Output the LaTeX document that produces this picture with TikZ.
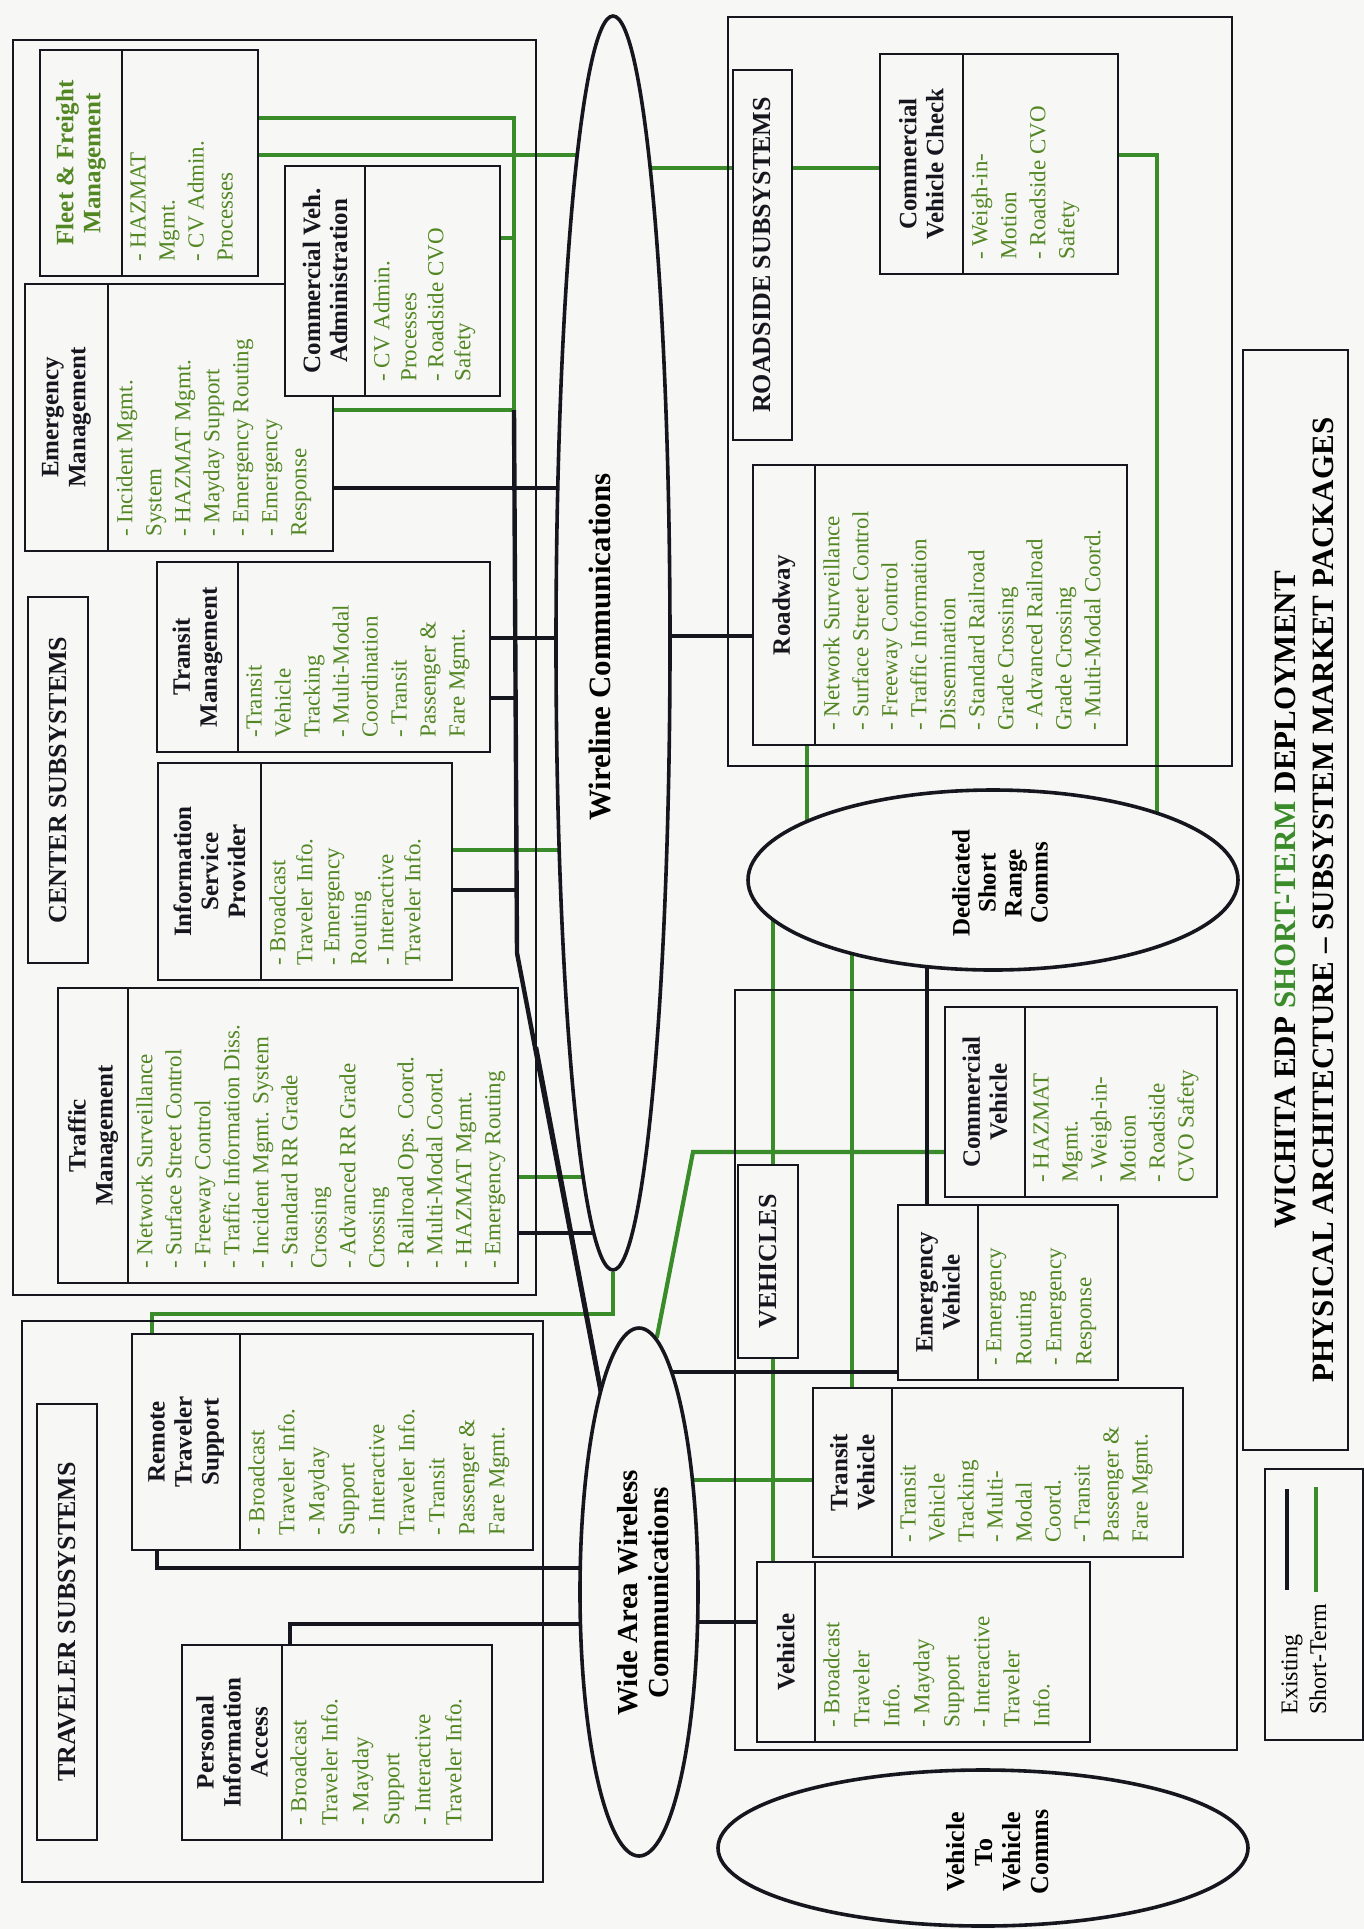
\documentclass[tikz,border=0pt]{standalone}
\usepackage{fontspec}
\setmainfont{Liberation Serif}
\usetikzlibrary{shapes.geometric,fit}
\definecolor{bgc}{RGB}{247,247,245}
\definecolor{lg}{RGB}{58,140,42}
\definecolor{tg}{RGB}{82,135,36}
\definecolor{ink}{RGB}{22,22,30}
\pgfdeclarelayer{back}
\pgfdeclarelayer{lines}
\pgfsetlayers{back,lines,main}
\newcommand\mybox[6][]{%
  \path (#3,#4) coordinate (#2-nw) (#5,#6) coordinate (#2-se);
  \node[frame,fit=(#2-nw)(#2-se),#1] (#2) {};}
\newcommand\mydiv[2]{\draw[frame] (#2,0 |- #1.north) -- (#2,0 |- #1.south);}
\begin{document}
\begin{tikzpicture}[x=0.5pt,y=-0.5pt,
  frame/.style={draw=ink,line width=0.9pt,inner sep=0pt},
  ttl/.style={rotate=90,font=\fontsize{12.5}{13.5}\selectfont\bfseries,align=center,inner sep=0pt,text=ink},
  itm/.style={rotate=90,font=\fontsize{11.5}{14.5}\selectfont,align=left,inner sep=0pt,anchor=north west,text=tg},
  sec/.style={rotate=90,font=\fontsize{13}{14}\selectfont\bfseries,inner sep=0pt,text=ink},
  ex/.style={draw=ink,line width=2.2pt},
  st/.style={draw=lg,line width=2.1pt},
  ell/.style={ellipse,draw=ink,line width=1.8pt,fill=bgc,inner sep=0pt}]
\useasboundingbox (0,0) rectangle (1364,1929);
\begin{pgfonlayer}{back}
\fill[bgc] (0,0) rectangle (1364,1929);
\end{pgfonlayer}

% ---------- CENTER SUBSYSTEMS ----------
\mybox{cen}{13}{40}{536}{1295}
\mybox{csl}{28}{597}{88}{963}
\node[sec] (csl-t) at (58,780) {CENTER SUBSYSTEMS};

\mybox{ffm}{40}{50}{258}{276}
\mydiv{ffm}{122}
\node[ttl,text=tg] (ffm-t) at (81,163) {Fleet \& Freight\\Management};
\node[itm] (ffm-i) at (130,262) {- HAZMAT\\Mgmt.\\- CV Admin.\\Processes};

\mybox{emm}{25}{284}{333}{551}
\mydiv{emm}{108}
\node[ttl] (emm-t) at (66.5,417.5) {Emergency\\Management};
\node[itm] (emm-i) at (116,537) {- Incident Mgmt.\\System\\- HAZMAT Mgmt.\\- Mayday Support\\- Emergency Routing\\- Emergency\\Response};

\mybox[fill=bgc]{cva}{285}{166}{500}{396}
\mydiv{cva}{365}
\node[ttl] (cva-t) at (325,281) {Commercial Veh.\\Administration};
\node[itm,font=\fontsize{11.5}{13.5}\selectfont] (cva-i) at (373,382) {- CV Admin.\\Processes\\- Roadside CVO\\Safety};

\mybox{trm}{157}{562}{490}{752}
\mydiv{trm}{238}
\node[ttl] (trm-t) at (197.5,657) {Transit\\Management};
\node[itm] (trm-i) at (246,738) {-Transit\\Vehicle\\Tracking\\- Multi-Modal\\Coordination\\- Transit\\Passenger \&\\Fare Mgmt.};

\mybox{isp}{158}{763}{452}{980}
\mydiv{isp}{261}
\node[ttl] (isp-t) at (209.5,871.5) {Information\\Service\\Provider};
\node[itm,font=\fontsize{11.5}{13.5}\selectfont] (isp-i) at (269,966) {- Broadcast\\Traveler Info.\\- Emergency\\Routing\\- Interactive\\Traveler Info.};

\mybox{trf}{58}{988}{518}{1283}
\mydiv{trf}{128}
\node[ttl] (trf-t) at (93,1135.5) {Traffic\\Management};
\node[itm] (trf-i) at (136,1269) {- Network Surveillance\\- Surface Street Control\\- Freeway Control\\- Traffic Information Diss.\\- Incident Mgmt. System\\- Standard RR Grade\\Crossing\\- Advanced RR Grade\\Crossing\\- Railroad Ops. Coord.\\- Multi-Modal Coord.\\- HAZMAT Mgmt.\\- Emergency Routing};

% ---------- ROADSIDE ----------
\mybox{rso}{728}{17}{1232}{766}
\mybox[fill=bgc]{rsl}{733}{70}{792}{440}
\node[sec] (rsl-t) at (762.5,255) {ROADSIDE SUBSYSTEMS};

\mybox{cvc}{880}{54}{1118}{274}
\mydiv{cvc}{963}
\node[ttl] (cvc-t) at (921.5,164) {Commercial\\Vehicle Check};
\node[itm] (cvc-i) at (971,260) {- Weigh-in-\\Motion\\- Roadside CVO\\Safety};

\mybox{rdw}{753}{465}{1127}{745}
\mydiv{rdw}{815}
\node[ttl] (rdw-t) at (784,605) {Roadway};
\node[itm] (rdw-i) at (823,731) {- Network Surveillance\\- Surface Street Control\\- Freeway Control\\- Traffic Information\\Dissemination\\- Standard Railroad\\Grade Crossing\\- Advanced Railroad\\Grade Crossing\\- Multi-Modal Coord.};

% ---------- VEHICLES ----------
\mybox{vho}{735}{990}{1237}{1750}
\mybox[fill=bgc]{vhl}{738}{1165}{798}{1358}
\node[sec] (vhl-t) at (768,1261.5) {VEHICLES};

\mybox{cmv}{945}{1007}{1217}{1197}
\mydiv{cmv}{1025}
\node[ttl] (cmv-t) at (985,1102) {Commercial\\Vehicle};
\node[itm] (cmv-i) at (1033,1183) {- HAZMAT\\Mgmt.\\- Weigh-in-\\Motion\\- Roadside\\CVO Safety};

\mybox{ev}{898}{1205}{1118}{1380}
\mydiv{ev}{978}
\node[ttl] (ev-t) at (938,1292.5) {Emergency\\Vehicle};
\node[itm,font=\fontsize{11.5}{15}\selectfont] (ev-i) at (986,1366) {- Emergency\\Routing\\- Emergency\\Response};

\mybox{tv}{813}{1388}{1183}{1557}
\mydiv{tv}{892}
\node[ttl] (tv-t) at (852.5,1472.5) {Transit\\Vehicle};
\node[itm] (tv-i) at (900,1543) {- Transit\\Vehicle\\Tracking\\- Multi-\\Modal\\Coord.\\- Transit\\Passenger \&\\Fare Mgmt.};

\mybox{veh}{757}{1562}{1090}{1742}
\mydiv{veh}{815}
\node[ttl] (veh-t) at (786,1652) {Vehicle};
\node[itm,font=\fontsize{11.5}{15}\selectfont] (veh-i) at (823,1728) {- Broadcast\\Traveler\\Info.\\- Mayday\\Support\\- Interactive\\Traveler\\Info.};

% ---------- TRAVELER ----------
\mybox{tro}{22}{1321}{543}{1882}
\mybox{tsl}{37}{1404}{97}{1840}
\node[sec] (tsl-t) at (67,1622) {TRAVELER SUBSYSTEMS};

\mybox{rts}{132}{1334}{533}{1550}
\mydiv{rts}{240}
\node[ttl] (rts-t) at (186,1442) {Remote\\Traveler\\Support};
\node[itm,font=\fontsize{11.5}{15}\selectfont] (rts-i) at (248,1536) {- Broadcast\\Traveler Info.\\- Mayday\\Support\\- Interactive\\Traveler Info.\\- Transit\\Passenger \&\\Fare Mgmt.};

\mybox{pia}{182}{1645}{492}{1840}
\mydiv{pia}{282}
\node[ttl] (pia-t) at (232,1742.5) {Personal\\Information\\Access};
\node[itm,font=\fontsize{11.5}{15.5}\selectfont] (pia-i) at (290,1826) {- Broadcast\\Traveler Info.\\- Mayday\\Support\\- Interactive\\Traveler Info.};

% ---------- COMMUNICATIONS ----------
\node[ell,minimum width=57pt,minimum height=627pt] (wl) at (613,643) {};
\node[rotate=90,font=\fontsize{15.5}{17}\selectfont\bfseries,inner sep=0pt] (wl-t) at (600,647) {Wireline Communications};
\node[ell,minimum width=245pt,minimum height=90pt] (dsrc) at (993,880) {};
\node[rotate=90,align=center,font=\fontsize{12.5}{13}\selectfont\bfseries,inner sep=0pt] (dsrc-t) at (1000,883) {Dedicated\\Short\\Range\\Comms};
\node[ell,minimum width=59pt,minimum height=264pt] (waw) at (639,1592) {};
\node[rotate=90,align=center,font=\fontsize{14.5}{15.5}\selectfont\bfseries,inner sep=0pt] (waw-t) at (643,1593) {Wide Area Wireless\\Communications};
\node[ell,minimum width=265pt,minimum height=78pt] (v2v) at (983,1848) {};
\node[rotate=90,align=center,font=\fontsize{13}{14}\selectfont\bfseries,inner sep=0pt] (v2v-t) at (998,1852) {Vehicle\\To\\Vehicle\\Comms};

% ---------- TITLE + LEGEND ----------
\mybox{ttlb}{1243}{350}{1348}{1450}
\node[rotate=90,align=center,font=\fontsize{15.5}{19}\selectfont\bfseries,inner sep=0pt] (ttl-t) at (1304,900) {WICHITA EDP \textcolor{lg}{SHORT-TERM} DEPLOYMENT\\PHYSICAL ARCHITECTURE – SUBSYSTEM MARKET PACKAGES};
\mybox{leg}{1265}{1469}{1363}{1740}
\node[rotate=90,anchor=west,font=\fontsize{12}{13}\selectfont,inner sep=0pt] (leg-e) at (1292,1715) {Existing};
\node[rotate=90,anchor=west,font=\fontsize{12}{13}\selectfont,inner sep=0pt] (leg-s) at (1318,1715) {Short-Term};
\coordinate (lega1) at (1287,1489); \coordinate (lega2) at (1287,1590);
\coordinate (legb1) at (1316,1487); \coordinate (legb2) at (1316,1592);
\draw[ex] (lega1) -- (lega2);
\draw[st] (legb1) -- (legb2);

% ---------- CONNECTORS ----------
\coordinate (busT) at (514,410);
\coordinate (busB) at (517,953);
\coordinate (lnB) at (536,1047);
\coordinate (rtsg) at (152,1314);
\coordinate (cvg) at (693,1152);
\begin{pgfonlayer}{lines}
% short-term (green)
\draw[st] (ffm.east |- 0,118) -| (busT);
\draw[st] (cva.east |- 0,238) -- (busT |- 0,238);
\draw[st] (emm.east |- busT) -- (busT);
\draw[st] (ffm.east |- 0,155) -- (wl.center |- 0,155);
\draw[st] (wl.center |- 0,168) -- (cvc.west |- 0,168);
\draw[st] (isp.east |- 0,850) -- (wl.center |- 0,850);
\draw[st] (trf.east |- 0,1177) -- (wl.center |- 0,1177);
\draw[st] (wl.south) -- (wl.south |- rtsg) -- (rtsg) -- (rts.north -| rtsg);
\draw[st] (waw.86) -- (cvg) -- (cmv.west |- cvg);
\draw[st] (dsrc.center -| 773,0) -- (veh.north -| 773,0);
\draw[st] (dsrc.center -| 852,0) -- (tv.north -| 852,0);
\draw[st] (waw.center |- 0,1480) -- (tv.west |- 0,1480);
\draw[st] (rdw.south -| 807,0) -- (dsrc.center -| 807,0);
\draw[st] (cvc.east |- 0,155) -| (dsrc.center -| 1157,0);
% existing (black)
\draw[ex] (busT) -- (busB) -- (waw.center);
\draw[ex] (lnB) -- (waw.center);
\draw[ex] (emm.east |- 0,488) -- (wl.center |- 0,488);
\draw[ex] (trm.east |- 0,638) -- (wl.center |- 0,638);
\draw[ex] (trm.east |- 0,698) -- (busB |- 0,698);
\draw[ex] (wl.center |- 0,636) -- (rdw.west |- 0,636);
\draw[ex] (isp.east |- 0,890) -- (busB |- 0,890);
\draw[ex] (trf.east |- 0,1233) -- (wl.center |- 0,1233);
\draw[ex] (rts.south -| 157,0) |- (waw.center |- 0,1568);
\draw[ex] (pia.north -| 290,0) |- (waw.center |- 0,1624);
\draw[ex] (dsrc.center -| 927,0) -- (ev.north -| 927,0);
\draw[ex] (waw.center |- 0,1372) -- (ev.west |- 0,1372);
\draw[ex] (waw.center |- 0,1622) -- (veh.west |- 0,1622);
\end{pgfonlayer}
\end{tikzpicture}
\end{document}
